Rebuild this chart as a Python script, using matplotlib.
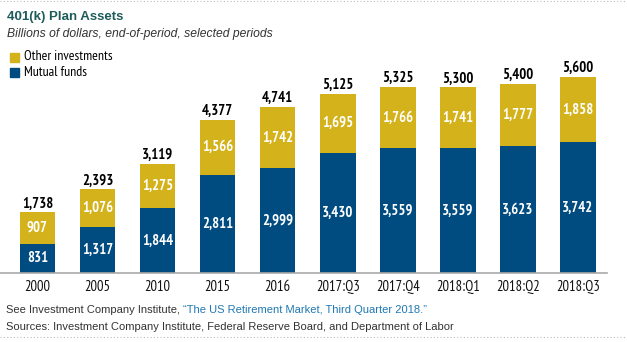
import matplotlib
matplotlib.use("Agg")
import matplotlib.pyplot as plt
from matplotlib import font_manager
from matplotlib.lines import Line2D

periods = ["2000", "2005", "2010", "2015", "2016", "2017:Q3", "2017:Q4", "2018:Q1", "2018:Q2", "2018:Q3"]
mutual_funds = [831, 1317, 1844, 2811, 2999, 3430, 3559, 3559, 3623, 3742]
other_investments = [907, 1076, 1275, 1566, 1742, 1695, 1766, 1741, 1777, 1858]
totals = [1738, 2393, 3119, 4377, 4741, 5125, 5325, 5300, 5400, 5600]

gold = "#D4B21C"
blue = "#004B7F"
sans = ["Liberation Sans", "DejaVu Sans"]

# pick a condensed face that also has a bold weight
fonts = font_manager.fontManager.ttflist
cands = {}
for f in fonts:
    if "Narrow" in f.name or "Condensed" in f.name or f.stretch in ("condensed", "semi-condensed"):
        w = f.weight if isinstance(f.weight, int) else 400
        cands.setdefault((f.name, f.stretch), []).append(w)
narrow_props = {"family": sans}
small = 0.85
best = None
for (name, stretch), weights in cands.items():
    if max(weights) >= 700 and 400 in weights:
        score = 0 if "Narrow" in name else 1
        if best is None or score < best[0]:
            best = (score, name, stretch)
if best:
    narrow_props = {"family": [best[1], "DejaVu Sans"], "stretch": best[2]}
    small = 1.0

W, H = 627, 342
fig = plt.figure(figsize=(W / 100, H / 100), dpi=100)
ax = fig.add_axes([0, 69 / H, 607 / W, 216 / H])

x = list(range(len(periods)))
ax.bar(x, mutual_funds, width=0.59, color=blue)
ax.bar(x, other_investments, width=0.59, bottom=mutual_funds, color=gold)

for i in x:
    ax.text(i, mutual_funds[i] / 2, f"{mutual_funds[i]:,}", ha="center", va="center",
            color="white", fontsize=10.5 * small, fontweight="bold", **narrow_props)
    ax.text(i, mutual_funds[i] + other_investments[i] / 2, f"{other_investments[i]:,}",
            ha="center", va="center", color="white", fontsize=10.5 * small, fontweight="bold", **narrow_props)
    ax.text(i, totals[i] + 50, f"{totals[i]:,}", ha="center", va="bottom",
            color="black", fontsize=10.5 * small, fontweight="bold", **narrow_props)

ax.set_xlim(-0.624, 9.482)
ax.set_ylim(0, 6170)
ax.set_xticks(x)
ax.set_xticklabels(periods, fontsize=10.5 * small, color="#111111", **narrow_props)
ax.tick_params(axis="x", length=0, pad=5)
ax.set_yticks([])
for s in ["top", "right", "left"]:
    ax.spines[s].set_visible(False)
ax.spines["bottom"].set_color("#aaaaaa")
ax.spines["bottom"].set_linewidth(1.2)

# title block
fig.text(7 / W, 1 - 17 / H, "401(k) Plan Assets", fontsize=9.5, fontweight="bold",
         color="#1E5B5B", family=sans, va="center")
fig.text(7 / W, 1 - 34 / H, "Billions of dollars, end-of-period, selected periods",
         fontsize=8.7, style="italic", color="#333333", family=sans, va="center")

# legend
fig.patches.append(plt.Rectangle((10 / W, 1 - 62 / H), 9 / W, 9 / H, color=gold, transform=fig.transFigure))
fig.patches.append(plt.Rectangle((10 / W, 1 - 77 / H), 9 / W, 9 / H, color=blue, transform=fig.transFigure))
fig.text(24 / W, 1 - 57 / H, "Other investments", fontsize=10 * small, va="center", **narrow_props)
fig.text(24 / W, 1 - 72 / H, "Mutual funds", fontsize=10 * small, va="center", **narrow_props)

# footnotes
t1 = fig.text(6 / W, 1 - 310 / H, "See Investment Company Institute, ", fontsize=8,
              color="#333333", family=sans, va="center")
fig.canvas.draw()
bb = t1.get_window_extent()
fig.text(bb.x1 / W, 1 - 310 / H, "\u201cThe US Retirement Market, Third Quarter 2018.\u201d",
         fontsize=8, color="#1F78B4", family=sans, va="center")
fig.text(6 / W, 1 - 327 / H, "Sources: Investment Company Institute, Federal Reserve Board, and Department of Labor",
         fontsize=8, color="#333333", family=sans, va="center")

# dotted rules
fig.add_artist(Line2D([0, 1], [1 - 1 / H, 1 - 1 / H], transform=fig.transFigure,
                      color="#bbbbbb", linestyle=(0, (1, 2)), linewidth=0.8))
fig.add_artist(Line2D([0, 1], [1 - 337 / H, 1 - 337 / H], transform=fig.transFigure,
                      color="#bbbbbb", linestyle=(0, (1, 2)), linewidth=0.8))

fig.savefig("out.png", dpi=100, facecolor="white")
